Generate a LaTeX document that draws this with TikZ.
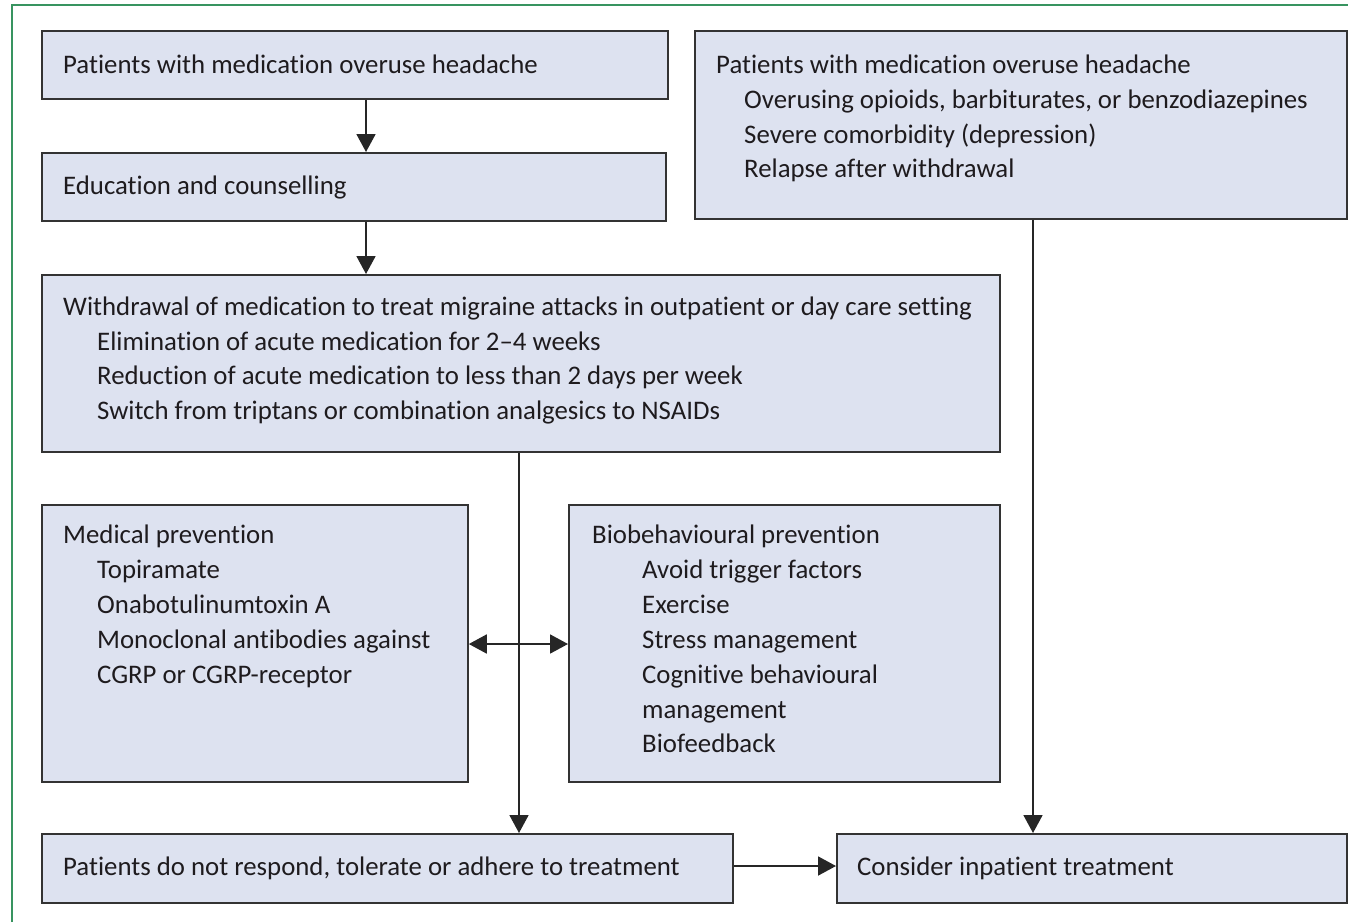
\documentclass[tikz,border=0pt]{standalone}
\usepackage{fontspec}
\setmainfont{Carlito}[Ligatures=NoCommon]
\usetikzlibrary{arrows.meta}
\definecolor{boxfill}{RGB}{221,226,240}
\definecolor{frame}{RGB}{56,148,96}
\definecolor{ink}{RGB}{30,27,30}
\tikzset{
  box/.style={draw=black!80, line width=1.8pt, fill=boxfill, anchor=north west, inner sep=0pt},
  txt/.style={anchor=base west, inner sep=0pt, text=ink, font=\fontsize{26.8}{26.8}\selectfont},
  arr/.style={line width=1.8pt, draw=black!85, -{Triangle[length=18pt,width=19pt]}},
  darr/.style={line width=1.8pt, draw=black!85, {Triangle[length=18pt,width=19pt]}-{Triangle[length=18pt,width=19pt]}}
}
\begin{document}
\begin{tikzpicture}[x=1pt,y=-1pt]
\useasboundingbox (0,0) rectangle (1348,922);
% outer frame (top and left edges)
\draw[frame, line width=2pt] (12,922) -- (12,5) -- (1348,5);

% boxes
\node[box, minimum width=626pt, minimum height=68pt] (a) at (41,30) {};
\node[box, minimum width=624pt, minimum height=68pt] (b) at (41,152) {};
\node[box, minimum width=652pt, minimum height=188pt] (c) at (694,30) {};
\node[box, minimum width=958pt, minimum height=177pt] (d) at (41,274) {};
\node[box, minimum width=426pt, minimum height=277pt] (e) at (41,504) {};
\node[box, minimum width=431pt, minimum height=277pt] (f) at (568,504) {};
\node[box, minimum width=691pt, minimum height=69pt] (g) at (41,833) {};
\node[box, minimum width=510pt, minimum height=69pt] (h) at (836,833) {};

% texts
\node[txt] (ta) at (63,73) {Patients with medication overuse headache};
\node[txt] (tb) at (63,194) {Education and counselling};

\node[txt] (tc0) at (716,73) {Patients with medication overuse headache};
\node[txt] (tc1) at (744,108) {Overusing opioids, barbiturates, or benzodiazepines};
\node[txt] (tc2) at (744,143) {Severe comorbidity (depression)};
\node[txt] (tc3) at (744,177) {Relapse after withdrawal};

\node[txt] (td0) at (63,315) {Withdrawal of medication to treat migraine attacks in outpatient or day care setting};
\node[txt] (td1) at (97,350) {Elimination of acute medication for 2–4 weeks};
\node[txt] (td2) at (97,384) {Reduction of acute medication to less than 2 days per week};
\node[txt] (td3) at (97,419) {Switch from triptans or combination analgesics to NSAIDs};

\node[txt] (te0) at (63,543) {Medical prevention};
\node[txt] (te1) at (97,578) {Topiramate};
\node[txt] (te2) at (97,613) {Onabotulinumtoxin A};
\node[txt] (te3) at (97,648) {Monoclonal antibodies against};
\node[txt] (te4) at (97,683) {CGRP or CGRP-receptor};

\node[txt] (tf0) at (592,543) {Biobehavioural prevention};
\node[txt] (tf1) at (642,578) {Avoid trigger factors};
\node[txt] (tf2) at (642,613) {Exercise};
\node[txt] (tf3) at (642,648) {Stress management};
\node[txt] (tf4) at (642,683) {Cognitive behavioural};
\node[txt] (tf5) at (642,718) {management};
\node[txt] (tf6) at (642,752) {Biofeedback};

\node[txt] (tg) at (63,875) {Patients do not respond, tolerate or adhere to treatment};
\node[txt] (th) at (857,875) {Consider inpatient treatment};

% connector guides
\coordinate (xab) at (366,0);
\coordinate (xdg) at (519,0);
\coordinate (xch) at (1033,0);
\coordinate (yef) at (0,644);
\coordinate (ygh) at (0,866);

% connectors
\draw[arr] (a.south -| xab) -- (b.north -| xab);
\draw[arr] (b.south -| xab) -- (d.north -| xab);
\draw[darr] (e.east |- yef) -- (f.west |- yef);
\draw[arr] (d.south -| xdg) -- (g.north -| xdg);
\draw[arr] (c.south -| xch) -- (h.north -| xch);
\draw[arr] (g.east |- ygh) -- (h.west |- ygh);
\end{tikzpicture}
\end{document}
